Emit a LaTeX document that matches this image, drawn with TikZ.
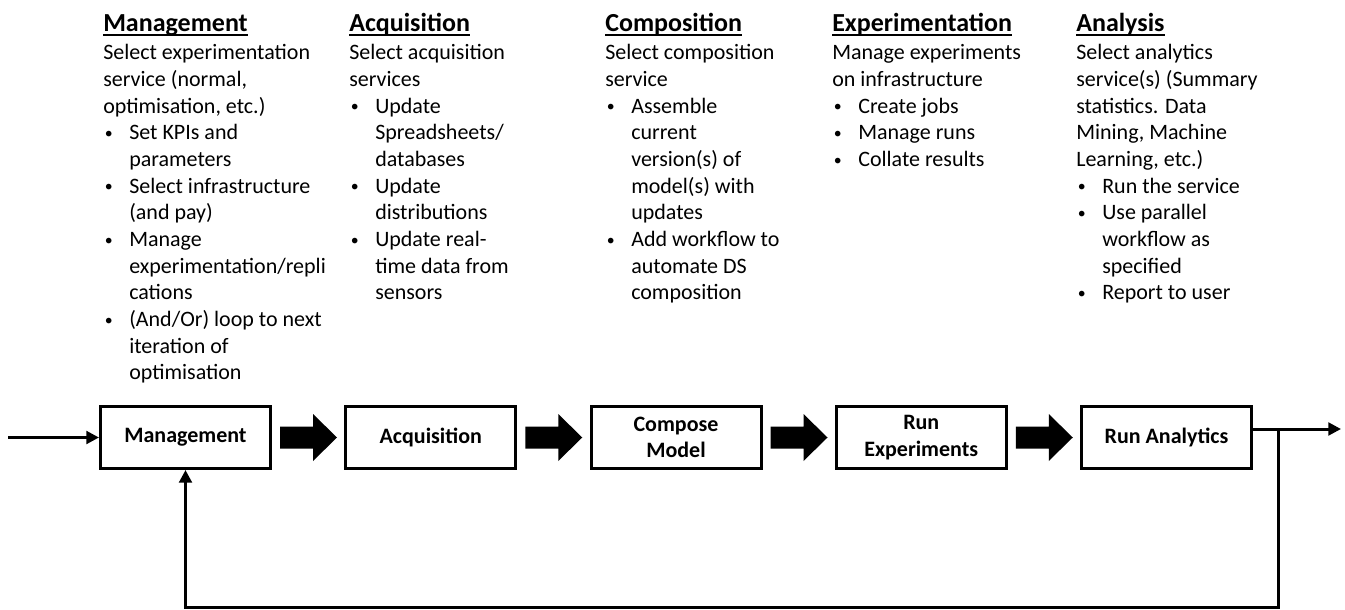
\documentclass[tikz,border=0pt]{standalone}
\usepackage{amsmath}
\usepackage{graphicx}
\usepackage{fontspec}
\setmainfont{Carlito}
\usetikzlibrary{arrows.meta}

% bullet line and its hanging indent
\newcommand{\itm}{\makebox[19.5pt][l]{\hspace{1.2pt}\raisebox{1pt}{\scalebox{0.72}{\textbullet}}}}
\newcommand{\cont}{\hspace*{19.5pt}}
\newcommand{\bodyfont}{\fontsize{16.5pt}{20pt}\selectfont}

\begin{document}
\begin{tikzpicture}[
  x=0.75pt,y=-0.75pt,
  stage/.style={draw,line width=2.25pt,minimum width=127.5pt,minimum height=46.5pt,
    inner sep=2pt,align=center,font=\fontsize{16.5pt}{20pt}\selectfont\bfseries},
  flow/.style={line width=2.25pt,-{Triangle[length=9.5pt,width=9.5pt]}},
  head/.style={anchor=base west,inner sep=0pt,font=\fontsize{19.5pt}{23pt}\selectfont\bfseries},
  body/.style={anchor=base west,inner sep=0pt,font=\bodyfont}
]
  \useasboundingbox (0,0) rectangle (1345,610);
  \def\rowy{437.5}

  % process chain
  \node[stage] (mgmt)   at (185.5,\rowy)  {Management};
  \node[stage] (acq)    at (430.75,\rowy) {Acquisition};
  \node[stage] (comp)   at (676,\rowy)    {Compose\\Model};
  \node[stage] (runexp) at (921.25,\rowy) {Run\\Experiments};
  \node[stage] (runan)  at (1166.5,\rowy) {Run Analytics};

  % fat arrows between the stages
  \foreach \a in {mgmt,acq,comp,runexp}{
    \fill[shift={(\a.east)}] (8,-11) -- (41,-11) -- (41,-23.5) -- (65,0)
      -- (41,23.5) -- (41,11) -- (8,11) -- cycle;
  }

  % in, out and the loop back
  \coordinate (in) at (8,\rowy);
  \coordinate (out) at (1341,429);
  \coordinate (split) at (1278,429);
  \coordinate (low) at (0,607);
  \draw[flow] (in) -- (mgmt);
  \draw[flow] (runan.east |- out) -- (out);
  \draw[flow] (split) -- (split |- low) -- (mgmt.south |- low) -- (mgmt.south);

  % column headings
  \foreach \n/\x/\t in {hm/103/Management,ha/349/Acquisition,hc/605/Composition,
                        he/832/Experimentation,hn/1076/Analysis}{
    \node[head] (\n) at (\x,32) {\t};
    \draw[line width=1.5pt] ([yshift=-1.9pt]\n.base west) -- ([yshift=-1.9pt]\n.base east);
  }

  % column texts
  \node[body] (bm) at (103,60) {\parbox[t]{200pt}{%
    Select experimentation\\
    service (normal,\\
    optimisation, etc.)\\
    \itm Set KPIs and\\
    \cont parameters\\
    \itm Select infrastructure\\
    \cont (and pay)\\
    \itm Manage\\
    \cont experimentation/repli\\
    \cont cations\\
    \itm (And/Or) loop to next\\
    \cont iteration of\\
    \cont optimisation}};
  \node[body] (ba) at (349,60) {\parbox[t]{200pt}{%
    Select acquisition\\
    services\\
    \itm Update\\
    \cont Spreadsheets/\\
    \cont databases\\
    \itm Update\\
    \cont distributions\\
    \itm Update real-\\
    \cont time data from\\
    \cont sensors}};
  \node[body] (bc) at (605,60) {\parbox[t]{200pt}{%
    Select composition\\
    service\\
    \itm Assemble\\
    \cont current\\
    \cont version(s) of\\
    \cont model(s) with\\
    \cont updates\\
    \itm Add workflow to\\
    \cont automate DS\\
    \cont composition}};
  \node[body] (be) at (832,60) {\parbox[t]{200pt}{%
    Manage experiments\\
    on infrastructure\\
    \itm Create jobs\\
    \itm Manage runs\\
    \itm Collate results}};
  \node[body] (bn) at (1076,60) {\parbox[t]{200pt}{%
    Select analytics\\
    service(s) (Summary\\
    statistics. Data\\
    Mining, Machine\\
    Learning, etc.)\\
    \itm Run the service\\
    \itm Use parallel\\
    \cont workflow as\\
    \cont specified\\
    \itm Report to user}};
\end{tikzpicture}
\end{document}
